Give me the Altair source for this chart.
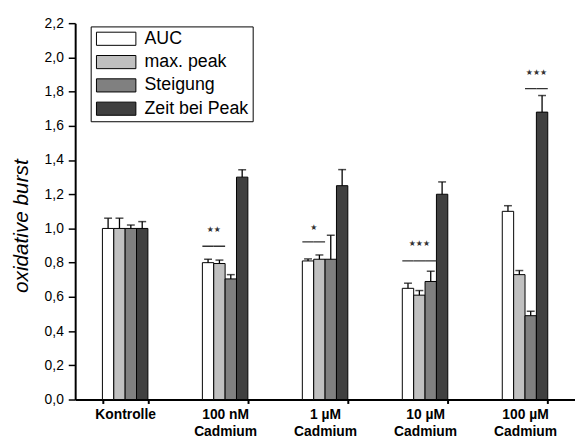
import altair as alt
import pandas as pd

categories = ["Kontrolle", "100 nM Cadmium", "1 µM Cadmium", "10 µM Cadmium", "100 µM Cadmium"]
series = ["AUC", "max. peak", "Steigung", "Zeit bei Peak"]
colors = ["#ffffff", "#c0c0c0", "#808080", "#404040"]

auc = [1.00, 0.80, 0.81, 0.65, 1.10]
max_peak = [1.00, 0.795, 0.82, 0.61, 0.73]
steigung = [1.00, 0.705, 0.82, 0.69, 0.49]
zeit = [1.00, 1.30, 1.25, 1.20, 1.68]

auc_err = [0.06, 0.02, 0.012, 0.03, 0.033]
max_peak_err = [0.06, 0.02, 0.025, 0.027, 0.024]
steigung_err = [0.02, 0.025, 0.14, 0.06, 0.026]
zeit_err = [0.04, 0.043, 0.094, 0.072, 0.097]

y_ticks = [0, 0.2, 0.4, 0.6, 0.8, 1.0, 1.2, 1.4, 1.6, 1.8, 2.0, 2.2]

# significance bars: (group, series covered, level)
sig_groups = ["100 nM Cadmium", "100 nM Cadmium",
              "1 µM Cadmium", "1 µM Cadmium",
              "10 µM Cadmium", "10 µM Cadmium", "10 µM Cadmium",
              "100 µM Cadmium", "100 µM Cadmium"]
sig_series = ["AUC", "max. peak",
              "AUC", "max. peak",
              "AUC", "max. peak", "Steigung",
              "Steigung", "Zeit bei Peak"]
sig_levels = [0.896, 0.896, 0.921, 0.921, 0.81, 0.81, 0.81, 1.817, 1.817]

# star labels between two bars (left series given)
star_groups_b = ["100 nM Cadmium", "1 µM Cadmium", "100 µM Cadmium"]
star_series_b = ["AUC", "AUC", "Steigung"]
star_text_b = ["★★", "★", "★★★"]
star_y_b = [0.99, 1.003, 1.907]
# star labels centred over a bar
star_groups_c = ["10 µM Cadmium"]
star_series_c = ["max. peak"]
star_text_c = ["★★★"]
star_y_c = [0.91]

vals = [auc, max_peak, steigung, zeit]
errs = [auc_err, max_peak_err, steigung_err, zeit_err]
rows = []
for s, v, e in zip(series, vals, errs):
    for c, vi, ei in zip(categories, v, e):
        rows.append({"group": c, "series": s, "value": vi, "upper": vi + ei})
df = pd.DataFrame(rows)
sig_df = pd.DataFrame({"group": sig_groups, "series": sig_series, "y": sig_levels})
star_b = pd.DataFrame({"group": star_groups_b, "series": star_series_b, "t": star_text_b, "y": star_y_b})
star_c = pd.DataFrame({"group": star_groups_c, "series": star_series_c, "t": star_text_c, "y": star_y_c})

FONT = "Liberation Sans"

x_enc = alt.X("group:N", sort=categories,
              scale=alt.Scale(paddingInner=0.545, paddingOuter=0.2725),
              axis=alt.Axis(title=None, labelAngle=0, labelFontWeight="bold", labelFontSize=14,
                            labelFont=FONT, tickBand="extent", tickSize=4, tickWidth=2,
                            domainWidth=2, labelPadding=4, labelLineHeight=17,
                            labelExpr="indexof(datum.label, ' Cadmium') > 0 ? [replace(datum.label, ' Cadmium', ''), 'Cadmium'] : datum.label"))
xo_enc = alt.XOffset("series:N", sort=series, scale=alt.Scale(paddingInner=0, paddingOuter=0))
y_scale = alt.Scale(domain=[0, 2.2], nice=False)
y_axis = alt.Axis(values=y_ticks, labelOverlap=False, labelFlush=False,
                  labelExpr="replace(format(datum.value, '.1f'), '.', ',')",
                  labelFontSize=14, labelFont=FONT, tickSize=7, tickWidth=1.5,
                  domainWidth=2, labelPadding=5, grid=False,
                  title="oxidative burst", titleFont=FONT, titleFontSize=21,
                  titleFontStyle="italic", titleFontWeight="normal",
                  titleX=-48, titleY=205, titleAngle=270, titleAlign="center",
                  titleBaseline="alphabetic")


def yq(field):
    return alt.Y(field, scale=y_scale, axis=y_axis)


bars = alt.Chart(df).mark_bar(stroke="black", strokeWidth=1).encode(
    x=x_enc,
    xOffset=xo_enc,
    y=yq("value:Q"),
    fill=alt.Fill("series:N", sort=series, scale=alt.Scale(domain=series, range=colors),
                  legend=alt.Legend(orient="none", legendX=15.7, legendY=3.3, title=None,
                                    symbolType="M-1,-1H5V1H-1Z", symbolSize=177,
                                    symbolStrokeColor="black", symbolStrokeWidth=1,
                                    labelFontSize=18, labelFont=FONT, labelOffset=33,
                                    rowPadding=5.6, padding=3.5, strokeColor="black",
                                    fillColor="white", labelColor="black")),
)

err_rule = alt.Chart(df).mark_rule(color="black", strokeWidth=1.3).encode(
    x=x_enc, xOffset=xo_enc, y=yq("value:Q"), y2="upper:Q")
err_cap = alt.Chart(df).mark_tick(color="black", size=8, thickness=1.5).encode(
    x=x_enc, xOffset=xo_enc, y=yq("upper:Q"))

sig = alt.Chart(sig_df).mark_bar(fill="#333333", stroke="#333333", strokeWidth=1.3).encode(
    x=x_enc, xOffset=xo_enc, y=yq("y:Q"), y2="y:Q")

stars_b = alt.Chart(star_b).mark_text(font="DejaVu Sans", fontSize=8, color="#333333",
                                      dx=5.8, baseline="middle").encode(
    x=x_enc, xOffset=xo_enc, y=yq("y:Q"), text="t:N")
stars_c = alt.Chart(star_c).mark_text(font="DejaVu Sans", fontSize=8, color="#333333",
                                      baseline="middle").encode(
    x=x_enc, xOffset=xo_enc, y=yq("y:Q"), text="t:N")

chart = alt.layer(bars, err_rule, err_cap, sig, stars_b, stars_c).properties(
    width=506, height=381,
    autosize=alt.AutoSizeParams(type="none"),
    padding={"left": 68, "top": 12.7, "right": 0, "bottom": 37},
).configure_view(stroke=None).configure_axis(
    domainColor="black", tickColor="black", labelColor="black", titleColor="black",
    labelOverlap=False
)

chart.save("out.html", embed_options={"renderer": "svg", "actions": False})
